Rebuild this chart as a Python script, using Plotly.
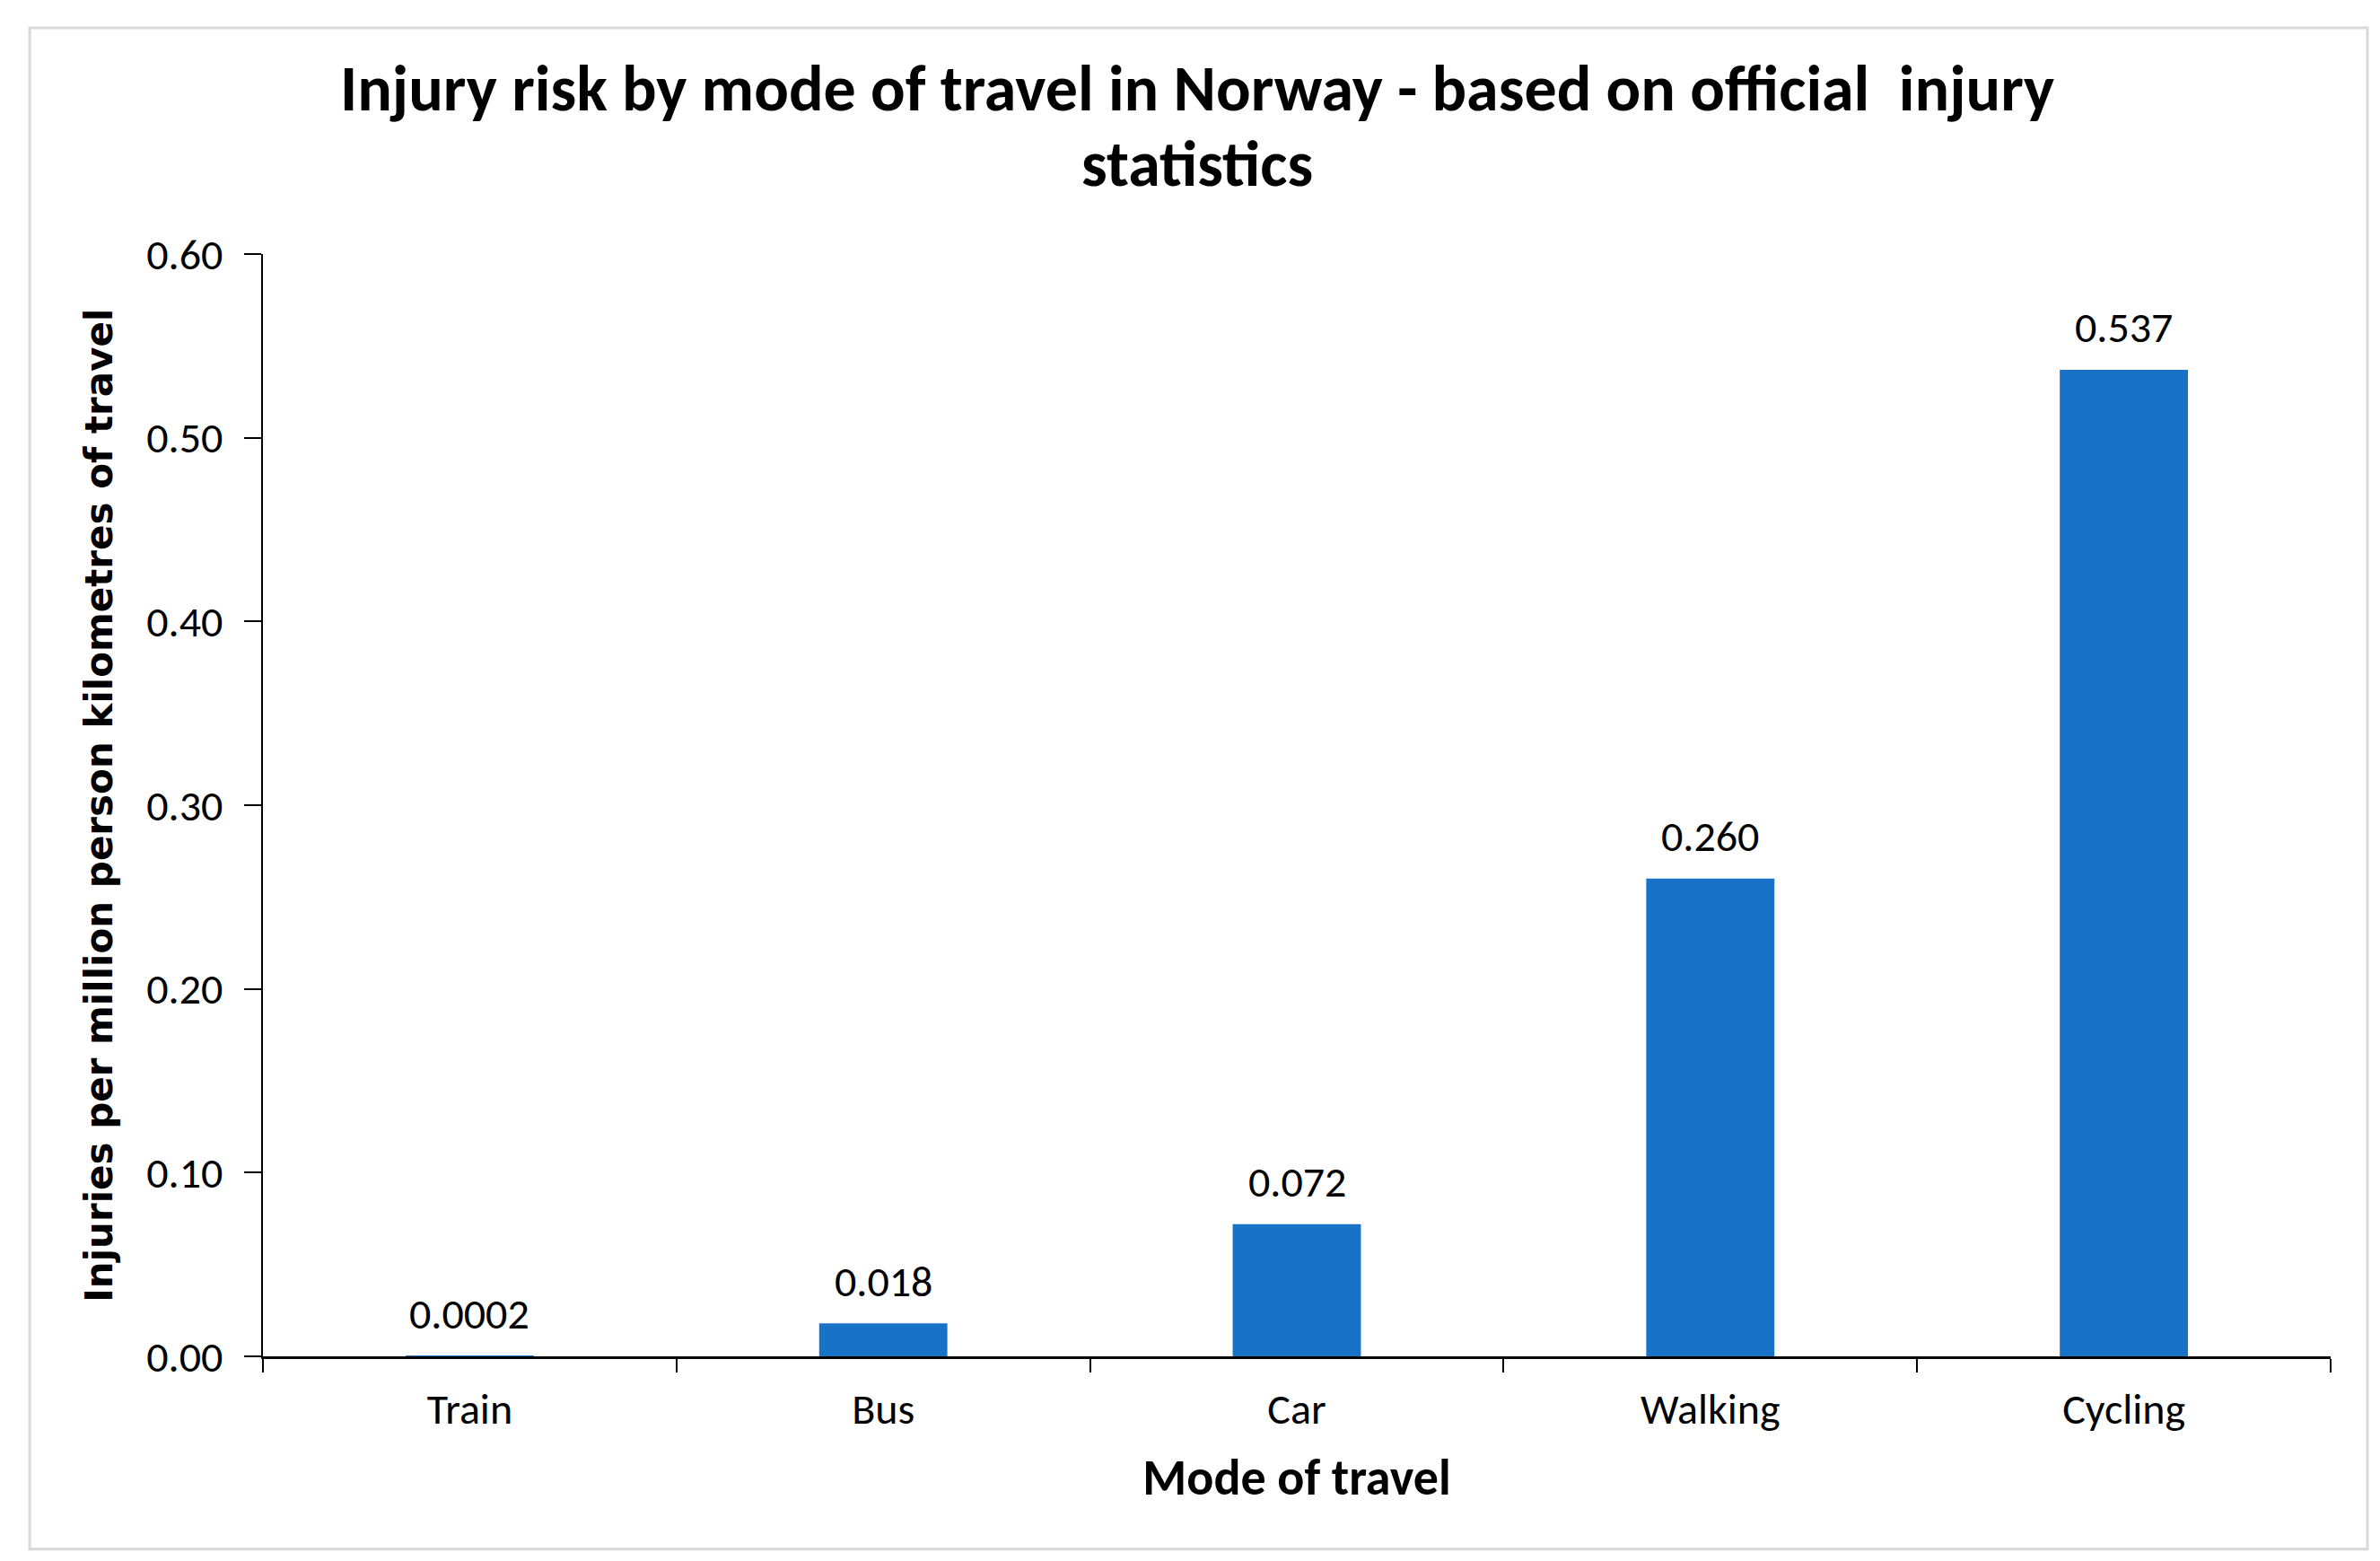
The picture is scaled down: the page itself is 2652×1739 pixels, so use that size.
import plotly.graph_objects as go

# injury risk per million person km, Norway
modes = ["Train", "Bus", "Car", "Walking", "Cycling"]
risk = [0.0002, 0.018, 0.072, 0.260, 0.537]
risk_labels = ["0.0002", "0.018", "0.072", "0.260", "0.537"]

y_ticks = [0.0, 0.1, 0.2, 0.3, 0.4, 0.5, 0.6]

title_lines = ["Injury risk by mode of travel in Norway - based on official  injury",
               "statistics"]

narrow = "Carlito, Lato, Liberation Sans, sans-serif"

bars = go.Bar(x=modes, y=risk,
              marker=dict(color="#1872C8", line=dict(width=0)),
              width=0.31, hoverinfo="x+y")

# value labels sit a bit higher than plotly's own outside text
value_notes = [dict(x=m, y=v, text=t, showarrow=False,
                    xref="x", yref="y", yanchor="middle", yshift=47,
                    font=dict(family=narrow, size=48, color="black"))
               for m, v, t in zip(modes, risk, risk_labels)]

# title is centred on the whole picture, not on the plot area
title_notes = [dict(x=0.452, y=yy, xref="paper", yref="paper",
                    text="<b>" + line + "</b>", showarrow=False,
                    xanchor="center", yanchor="middle",
                    font=dict(family=narrow, size=72, color="black"))
               for line, yy in zip(title_lines, [1.151, 1.082])]

ytitle_note = [dict(x=-0.0795, y=0.5, xref="paper", yref="paper",
                    text="<b>Injuries per million person kilometres of travel</b>",
                    textangle=-90, showarrow=False,
                    xanchor="center", yanchor="middle",
                    font=dict(family="DejaVu Sans", size=42, color="black"))]

layout = dict(
    width=2652, height=1739,
    paper_bgcolor="white", plot_bgcolor="white",
    margin=dict(l=285, r=63, t=275, b=236),
    showlegend=False,
    xaxis=dict(range=[-0.5, 4.5], showline=True, linecolor="black", linewidth=3,
               ticks="outside", tickson="boundaries", ticklen=15, tickwidth=2,
               tickcolor="black", showgrid=False, ticklabelstandoff=14,
               tickfont=dict(family=narrow, size=48, color="black"),
               title=dict(text="<b>Mode of travel</b>", standoff=29,
                          font=dict(family=narrow, size=56, color="black"))),
    yaxis=dict(range=[0, 0.6], tickvals=y_ticks, tickformat=".2f",
               showline=True, linecolor="black", linewidth=2,
               ticks="outside", ticklen=19, tickwidth=2, tickcolor="black",
               showgrid=False, zeroline=False, ticklabelstandoff=14,
               tickfont=dict(family=narrow, size=48, color="black")),
    annotations=title_notes + ytitle_note + value_notes,
    shapes=[dict(type="rect", xref="paper", yref="paper",
                 x0=-0.1128, x1=1.0178, y0=-0.1748, y1=1.2052,
                 line=dict(color="#D9D9D9", width=3))],
)

fig = go.Figure(data=[bars], layout=layout)
fig.write_html("out.html")
